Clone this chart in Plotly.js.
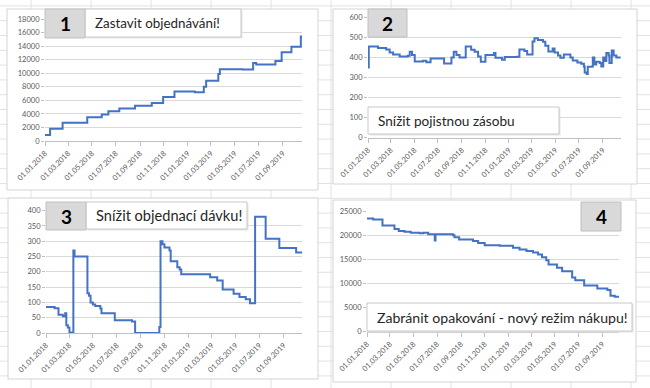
<!DOCTYPE html>
<html><head><meta charset="utf-8">
<script src="https://cdn.plot.ly/plotly-3.0.1.min.js"></script>
<style>html,body{margin:0;padding:0;background:#fff}#chart{width:650px;height:388px}</style>
</head><body><div id="chart"></div>
<script>
// ---------- DATA ----------
const titles = ["Zastavit objednávání!", "Snížit pojistnou zásobu", "Snížit objednací dávku!", "Zabránit opakování - nový režim nákupu!"];
const panelNumbers = ["1", "2", "3", "4"];

const dates1 = ["2018-01-01","2018-01-14","2018-02-15","2018-04-19","2018-05-26","2018-06-12","2018-07-10","2018-08-19","2018-10-01","2018-10-30","2018-11-28","2019-01-19","2019-02-11","2019-02-17","2019-03-20","2019-03-24","2019-05-21","2019-06-17","2019-06-25","2019-08-13","2019-08-29","2019-09-23","2019-10-17","2019-10-20"];
const values1 = [900,1800,2700,3500,3900,4400,4800,5200,5600,6500,7300,7200,8000,8900,9900,10600,10550,11500,11300,11800,13100,13900,15400,15400];

const dates2 = ["2018-01-01","2018-01-03","2018-01-27","2018-02-17","2018-02-26","2018-03-07","2018-03-24","2018-04-14","2018-04-19","2018-04-25","2018-05-02","2018-05-23","2018-06-01","2018-06-12","2018-07-17","2018-08-05","2018-08-11","2018-08-18","2018-08-26","2018-09-11","2018-09-25","2018-10-04","2018-10-13","2018-10-20","2018-11-01","2018-11-23","2018-11-27","2018-12-14","2018-12-21","2019-01-22","2019-01-28","2019-02-10","2019-02-17","2019-03-03","2019-03-08","2019-03-17","2019-03-30","2019-04-05","2019-04-13","2019-04-24","2019-04-29","2019-05-08","2019-05-14","2019-05-23","2019-06-09","2019-06-15","2019-06-27","2019-07-07","2019-07-14","2019-07-16","2019-07-21","2019-07-24","2019-08-04","2019-08-06","2019-08-10","2019-08-15","2019-08-24","2019-08-28","2019-09-02","2019-09-05","2019-09-10","2019-09-16","2019-09-18","2019-09-23","2019-09-24","2019-09-29","2019-10-06","2019-10-17"];
const values2 = [350,455,447,440,425,415,405,408,428,412,380,383,376,395,370,400,428,412,400,455,438,428,405,378,412,422,398,388,402,404,440,432,415,480,495,487,478,458,430,445,425,410,398,415,400,385,375,368,355,325,318,353,355,400,365,378,372,355,400,382,422,410,372,372,435,410,400,400];

const dates3 = ["2018-01-01","2018-01-23","2018-02-02","2018-02-13","2018-02-19","2018-02-22","2018-02-26","2018-03-02","2018-03-12","2018-03-15","2018-04-17","2018-04-21","2018-04-25","2018-05-01","2018-05-07","2018-05-20","2018-05-23","2018-06-26","2018-08-09","2018-08-17","2018-10-18","2018-10-21","2018-10-26","2018-10-31","2018-11-13","2018-11-16","2018-12-03","2018-12-09","2018-12-13","2019-02-25","2019-03-15","2019-03-29","2019-04-26","2019-05-11","2019-05-27","2019-06-07","2019-06-20","2019-07-17","2019-08-21","2019-10-03","2019-10-18"];
const values3 = [85,81,60,55,65,25,18,2,270,250,130,122,100,93,88,80,65,42,38,0,20,300,290,280,270,235,215,208,192,182,172,142,128,118,110,97,380,308,278,263,263];

const dates4 = ["2018-01-01","2018-01-17","2018-02-10","2018-03-13","2018-03-24","2018-04-08","2018-04-24","2018-05-17","2018-05-26","2018-06-08","2018-06-25","2018-06-27","2018-08-11","2018-08-15","2018-08-27","2018-10-02","2018-10-15","2018-11-01","2018-12-10","2019-01-13","2019-01-30","2019-02-17","2019-03-06","2019-03-19","2019-03-29","2019-04-09","2019-04-15","2019-05-07","2019-05-20","2019-06-15","2019-06-23","2019-07-16","2019-08-19","2019-09-14","2019-09-22","2019-10-03","2019-10-14"];
const values4 = [23600,23400,22100,21400,21000,20800,20600,20500,20600,20300,19000,20300,20100,19700,19200,18900,18500,18000,17900,17500,17100,16800,16500,16100,15500,14900,14000,13300,12600,11300,10700,9600,9000,8700,7500,7300,7300];

const yRanges = [[0,18000],[0,600],[0,400],[0,25000]];
const yDticks = [2000,100,50,5000];
const xEnds = ["2019-10-20","2019-10-18","2019-10-18","2019-10-14"];

// ---------- LAYOUT (pixels) ----------
const W = 650, H = 388;
const fx = x => x / W, fy = y => 1 - y / H;
const LINE = '#4472C4';
const FONT = 'Lato, "Open Sans", sans-serif';

const plots = [
  [45, 302, 19, 141],
  [368, 621, 17.3, 137.7],
  [46, 302, 210.7, 333],
  [367, 619, 211.7, 331.7]
];
const panels = [[7,9,318,190],[333,9,637,184],[8,198,318,379],[333,200,636,382]];
const numBoxes = [[45,9,85,38],[368,9,407,37],[46,202,86,230],[581,202,621,231]];
const textBoxes = [[85,9,241,37],[368,107,559,134],[86,202,247,229],[367,303,632,331]];
const textX = [93,376,94,375];
const textSizes = [13.4,13.6,14.6,14.1];

const allDates = [dates1,dates2,dates3,dates4];
const allValues = [values1,values2,values3,values4];

const data = [];
const layout = {
  width: W, height: H,
  margin: {l:0,r:0,t:0,b:0},
  paper_bgcolor: '#ffffff',
  plot_bgcolor: 'rgba(0,0,0,0)',
  showlegend: false,
  font: {family: FONT},
  shapes: [], annotations: []
};

for (let x = 31; x < W; x += 60) {
  layout.shapes.push({type:'line', xref:'paper', yref:'paper', x0:fx(x), x1:fx(x), y0:0, y1:1, line:{color:'#e2e2e2', width:1}, layer:'below'});
}
for (let y = 5.9; y < H; y += 14.8) {
  layout.shapes.push({type:'line', xref:'paper', yref:'paper', x0:0, x1:1, y0:fy(y), y1:fy(y), line:{color:'#e2e2e2', width:1}, layer:'below'});
}
panels.forEach(p => {
  layout.shapes.push({type:'rect', xref:'paper', yref:'paper', x0:fx(p[0]), x1:fx(p[2]), y0:fy(p[3]), y1:fy(p[1]), fillcolor:'#ffffff', line:{color:'#d4d4d4', width:1}, layer:'below'});
});

for (let i = 0; i < 4; i++) {
  const s = i === 0 ? '' : String(i+1);
  data.push({
    x: allDates[i], y: allValues[i], type:'scatter', mode:'lines',
    line:{color:LINE, width:2, shape:'hv'},
    xaxis:'x'+s, yaxis:'y'+s, hoverinfo:'skip'
  });
  const p = plots[i];
  layout['xaxis'+s] = {
    type:'date', domain:[fx(p[0]), fx(p[1])], anchor:'y'+s,
    range:['2018-01-01', xEnds[i]],
    tickmode:'linear', tick0:'2018-01-01', dtick:'M2', tickformat:'%d.%m.%Y',
    tickangle:-45, ticks:'outside', ticklen:4, tickcolor:'#bfbfbf',
    showline:true, linecolor:'#bfbfbf', linewidth:1,
    showgrid:false, zeroline:false,
    tickfont:{size:7.5, color:'#595959', family:FONT}
  };
  layout['yaxis'+s] = {
    domain:[fy(p[3]), fy(p[2])], anchor:'x'+s,
    range:yRanges[i], tickmode:'linear', tick0:0, dtick:yDticks[i], tickformat:'d',
    showgrid:true, gridcolor:'#d9d9d9', gridwidth:1,
    zeroline:false, showline:false,
    ticks:'outside', ticklen:3, tickcolor:'#bfbfbf',
    tickfont:{size:7.5, color:'#595959', family:FONT}
  };
  const t = textBoxes[i];
  layout.shapes.push({type:'rect', xref:'paper', yref:'paper', x0:fx(t[0]+1.5), x1:fx(t[2]+1.5), y0:fy(t[3]+1.5), y1:fy(t[1]+1.5), fillcolor:'#e6e6e6', line:{width:0}, layer:'above'});
  layout.shapes.push({type:'rect', xref:'paper', yref:'paper', x0:fx(t[0]), x1:fx(t[2]), y0:fy(t[3]), y1:fy(t[1]), fillcolor:'#ffffff', line:{color:'#c8c8c8', width:1}, layer:'above'});
  const n = numBoxes[i];
  layout.shapes.push({type:'rect', xref:'paper', yref:'paper', x0:fx(n[0]), x1:fx(n[2]), y0:fy(n[3]), y1:fy(n[1]), fillcolor:'#d9d9d9', line:{color:'#c0c0c0', width:1}, layer:'above'});
  layout.annotations.push({xref:'paper', yref:'paper', x:fx((n[0]+n[2])/2), y:fy((n[1]+n[3])/2), text:'<b>'+panelNumbers[i]+'</b>', showarrow:false, xanchor:'center', yanchor:'middle', font:{size:19, color:'#000000', family:FONT}});
  layout.annotations.push({xref:'paper', yref:'paper', x:fx(textX[i]), y:fy((t[1]+t[3])/2), text:titles[i], showarrow:false, xanchor:'left', yanchor:'middle', font:{size:textSizes[i], color:'#262626', family:FONT}});
}

Plotly.newPlot('chart', data, layout, {staticPlot:true, displayModeBar:false});
</script>
</body></html>
